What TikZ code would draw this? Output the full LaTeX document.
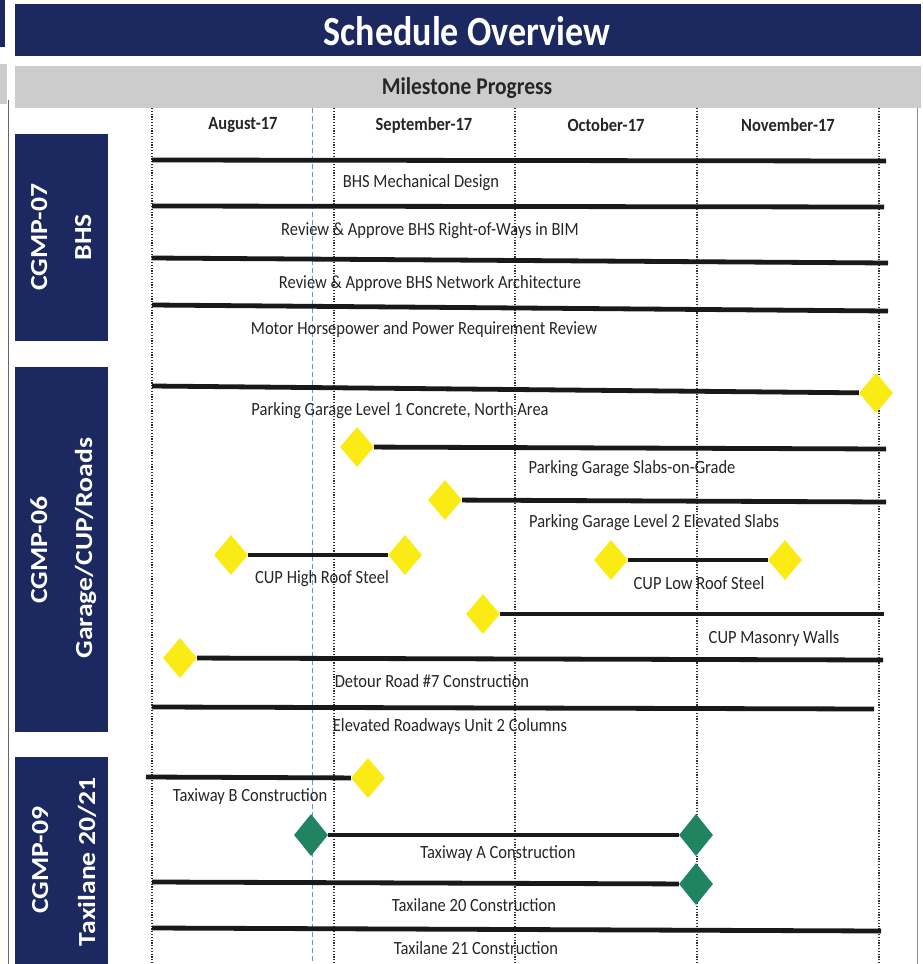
\documentclass[tikz,border=0pt]{standalone}
\usepackage{fontspec}
\setmainfont{Carlito}
\usetikzlibrary{shapes.geometric}
\definecolor{navy}{RGB}{28,40,96}
\definecolor{hdrgray}{RGB}{204,204,204}
\definecolor{msyellow}{RGB}{250,235,20}
\definecolor{msgreen}{RGB}{32,132,96}
\definecolor{todayblue}{RGB}{100,150,215}
\begin{document}
\begin{tikzpicture}[x=1pt,y=-1pt,
  taskbar/.style={line width=4.8pt, black!90},
  msy/.style={diamond, fill=msyellow, minimum width=34pt, minimum height=40pt, inner sep=0pt},
  msg/.style={diamond, fill=msgreen, minimum width=34pt, minimum height=42pt, inner sep=0pt},
  lbl/.style={font=\fontsize{16.5}{18}\selectfont, inner sep=0pt, yscale=1.13, text=black!85},
  mon/.style={font=\bfseries\fontsize{16.5}{18}\selectfont, inner sep=0pt, yscale=1.13, text=black!85},
  secname/.style={font=\bfseries\fontsize{24.5}{26}\selectfont, text=white, inner sep=0pt, rotate=90, xscale=1.13, anchor=base},
  monthline/.style={black!80, line width=1.1pt, dash pattern=on 1.2pt off 1.6pt},
  todayline/.style={todayblue, line width=0.9pt, dash pattern=on 5pt off 3pt},
  secbox/.style={fill=navy, draw=none}]
\useasboundingbox (0,0) rectangle (923,964);
\fill[white] (0,0) rectangle (923,964);
% left edge remnants / frame
\fill[navy] (0,0) rectangle (5,47);
\fill[hdrgray] (0,64) rectangle (7,104);
\draw[black!60, line width=0.8pt] (8,100) -- (8,964);
\draw[black!45, line width=0.8pt] (917,108) -- (917,964);
% header bars
\fill[navy] (15,4) rectangle (921,56);
\node (title) [font=\bfseries\fontsize{36}{40}\selectfont, text=white, inner sep=0pt, yscale=1.15] at (467,31) {Schedule Overview};
\fill[hdrgray] (15,66) rectangle (921,108);
\node (mp) [font=\bfseries\fontsize{21.5}{24}\selectfont, text=black!85, inner sep=0pt, yscale=1.12] at (467,88) {Milestone Progress};
% section boxes
\fill[secbox] (15,134) rectangle (108,341);
\fill[secbox] (15,367) rectangle (108,732);
\fill[secbox] (15,757) rectangle (108,970);
\node (s1a) [secname] at (47,237) {CGMP-07};
\node (s1b) [secname] at (91,237) {BHS};
\node (s2a) [secname] at (47,550) {CGMP-06};
\node (s2b) [secname] at (92,548) {Garage/CUP/Roads};
\node (s3a) [secname] at (48,860) {CGMP-09};
\node (s3b) [secname] at (95,862) {Taxilane 20/21};
% month grid
\foreach \gx in {152,334,515,697,879} \draw[monthline] (\gx,108) -- (\gx,964);
\draw[todayline] (312,108) -- (312,964);
\node (m1) [mon] at (243,125) {August-17};
\node (m2) [mon] at (424,125) {September-17};
\node (m3) [mon] at (606,125) {October-17};
\node (m4) [mon] at (788,125) {November-17};
% BHS rows
\coordinate (a1) at (152,160); \coordinate (b1) at (886,161);
\coordinate (a2) at (152,206); \coordinate (b2) at (884,207);
\coordinate (a3) at (152,258); \coordinate (b3) at (888,263);
\coordinate (a4) at (152,305); \coordinate (b4) at (888,311);
\draw[taskbar] (a1) -- (b1);
\draw[taskbar] (a2) -- (b2);
\draw[taskbar] (a3) -- (b3);
\draw[taskbar] (a4) -- (b4);
\node (l1) [lbl] at (421,183) {BHS Mechanical Design};
\node (l2) [lbl] at (430,231) {Review \& Approve BHS Right-of-Ways in BIM};
\node (l3) [lbl] at (430,284) {Review \& Approve BHS Network Architecture};
\node (l4) [lbl] at (424,330) {Motor Horsepower and Power Requirement Review};
% Garage rows
\coordinate (a5) at (152,386);
\node (d5) [msy] at (876,393) {};
\draw[taskbar] (a5) -- (d5);
\node (d6) [msy] at (357,447) {};
\coordinate (b6) at (886,449);
\draw[taskbar] (d6) -- (b6);
\node (d7) [msy] at (445,500) {};
\coordinate (b7) at (886,502);
\draw[taskbar] (d7) -- (b7);
\node (d8a) [msy] at (231,555) {};
\node (d8b) [msy] at (405,555) {};
\draw[taskbar] (d8a) -- (d8b);
\node (d9a) [msy] at (611,560) {};
\node (d9b) [msy] at (785,560) {};
\draw[taskbar] (d9a) -- (d9b);
\node (d10) [msy] at (483,614) {};
\coordinate (b10) at (884,614);
\draw[taskbar] (d10) -- (b10);
\node (d11) [msy] at (180,658) {};
\coordinate (b11) at (883,660);
\draw[taskbar] (d11) -- (b11);
\coordinate (a12) at (152,707); \coordinate (b12) at (874,709);
\draw[taskbar] (a12) -- (b12);
\node (l5) [lbl] at (400,411) {Parking Garage Level 1 Concrete, North Area};
\node (l6) [lbl] at (632,469) {Parking Garage Slabs-on-Grade};
\node (l7) [lbl] at (654,523) {Parking Garage Level 2 Elevated Slabs};
\node (l8) [lbl] at (322,579) {CUP High Roof Steel};
\node (l9) [lbl] at (699,583) {CUP Low Roof Steel};
\node (l10) [lbl] at (774,639) {CUP Masonry Walls};
\node (l11) [lbl] at (432,681) {Detour Road \#7 Construction};
\node (l12) [lbl] at (450,727) {Elevated Roadways Unit 2 Columns};
% Taxilane rows
\coordinate (a13) at (146,777);
\node (d13) [msy] at (368,778) {};
\draw[taskbar] (a13) -- (d13);
\node (d14a) [msg] at (311,835) {};
\node (d14b) [msg] at (696,835) {};
\draw[taskbar] (d14a) -- (d14b);
\coordinate (a15) at (152,882);
\node (d15) [msg] at (696,884) {};
\draw[taskbar] (a15) -- (d15);
\coordinate (a16) at (152,928); \coordinate (b16) at (881,931);
\draw[taskbar] (a16) -- (b16);
\node (l13) [lbl] at (250,797) {Taxiway B Construction};
\node (l14) [lbl] at (498,854) {Taxiway A Construction};
\node (l15) [lbl] at (474,905) {Taxilane 20 Construction};
\node (l16) [lbl] at (476,948) {Taxilane 21 Construction};
\end{tikzpicture}
\end{document}
